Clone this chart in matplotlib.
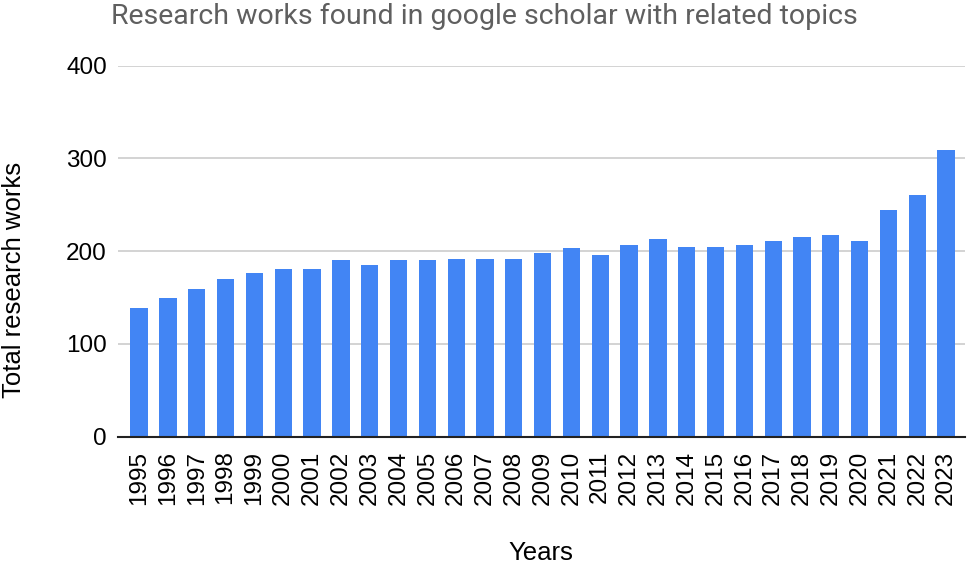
import matplotlib.pyplot as plt
import numpy as np

# values
years = [str(y) for y in range(1995, 2024)]
works = [139, 150, 159, 170, 176, 181, 181, 190, 185, 190, 190, 192, 192, 192,
         198, 203, 196, 207, 213, 204, 204, 207, 211, 215, 217, 211, 244, 261, 309]
yticks = [0, 100, 200, 300, 400]

plt.rcParams['font.family'] = ['Liberation Sans', 'DejaVu Sans']

fig = plt.figure(figsize=(9.68, 5.66), dpi=100)
ax = fig.add_axes([0.122, 0.2285, 0.875, 0.6555])

x = np.arange(len(years))
ax.bar(x, works, width=0.6, color='#4285f4', zorder=3)

ax.set_xlim(-0.73, len(years) - 1 + 0.66)
ax.set_ylim(0, 400)
ax.set_yticks(yticks)
ax.set_xticks(x)
ax.set_xticklabels(years, rotation=90)
ax.tick_params(axis='both', length=0, labelsize=17.5, colors='black')
ax.tick_params(axis='y', pad=8)
ax.tick_params(axis='x', pad=10)

ax.grid(axis='y', color='#cccccc', linewidth=1.2, zorder=0)
for s in ['top', 'right', 'left']:
    ax.spines[s].set_visible(False)
ax.spines['bottom'].set_color('#222222')
ax.spines['bottom'].set_linewidth(1.5)
ax.spines['bottom'].set_zorder(4)

fig.text(0.5, 1 - 16 / 566, "Research works found in google scholar with related topics",
         ha='center', va='center', fontsize=20.5, color='#5f5f5f', family=['Roboto', 'DejaVu Sans'])
fig.text(541 / 968, 1 - 553 / 566, "Years", ha='center', va='center', fontsize=18.5)
fig.text(14 / 968, 1 - 280 / 566, "Total research works", ha='center', va='center',
         rotation=90, fontsize=18.5)

fig.savefig('out.png', dpi=100)
